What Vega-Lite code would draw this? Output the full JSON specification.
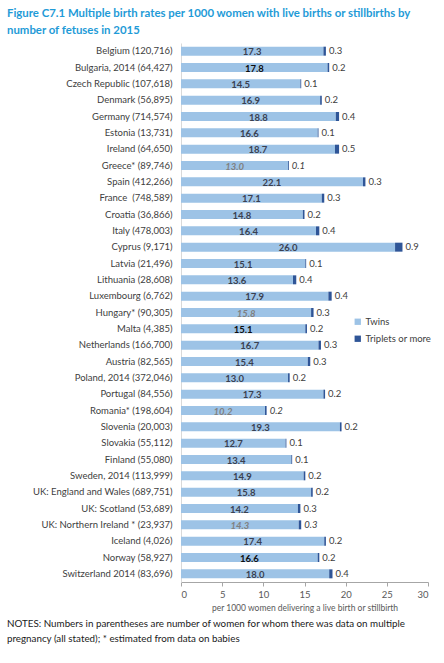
{
  "$schema": "https://vega.github.io/schema/vega-lite/v6.json",
  "background": "white",
  "padding": {"left": 7, "top": 7, "right": 5, "bottom": 5},
  "config": {"view": {"stroke": null}, "font": "Lato"},
  "title": {
    "text": ["Figure C7.1 Multiple birth rates per 1000 women with live births or stillbirths by", "number of fetuses in 2015"],
    "anchor": "start", "frame": "bounds", "font": "Lato", "fontSize": 11.4, "fontWeight": "bold",
    "color": "#1f9bd7", "lineHeight": 17, "offset": 7
  },
  "vconcat": [
    {
      "width": 247,
      "height": 539,
      "title": {
        "text": ["NOTES: Numbers in parentheses are number of women for whom there was data on multiple", "pregnancy (all stated); * estimated from data on babies"],
        "orient": "bottom", "anchor": "start", "frame": "group", "dx": -174, "offset": 7,
        "font": "Lato", "fontSize": 9.8, "fontWeight": "normal", "color": "#1a1a1a", "lineHeight": 15
      },
      "data": {
        "values": [
          {"label": "Belgium (120,716)", "Twins": 17.3, "Triplets or more": 0.3, "est": false},
          {"label": "Bulgaria, 2014 (64,427)", "Twins": 17.8, "Triplets or more": 0.2, "est": false},
          {"label": "Czech Republic (107,618)", "Twins": 14.5, "Triplets or more": 0.1, "est": false},
          {"label": "Denmark (56,895)", "Twins": 16.9, "Triplets or more": 0.2, "est": false},
          {"label": "Germany (714,574)", "Twins": 18.8, "Triplets or more": 0.4, "est": false},
          {"label": "Estonia (13,731)", "Twins": 16.6, "Triplets or more": 0.1, "est": false},
          {"label": "Ireland (64,650)", "Twins": 18.7, "Triplets or more": 0.5, "est": false},
          {"label": "Greece* (89,746)", "Twins": 13.0, "Triplets or more": 0.1, "est": true},
          {"label": "Spain (412,266)", "Twins": 22.1, "Triplets or more": 0.3, "est": false},
          {"label": "France\u00a0 (748,589)", "Twins": 17.1, "Triplets or more": 0.3, "est": false},
          {"label": "Croatia (36,866)", "Twins": 14.8, "Triplets or more": 0.2, "est": false},
          {"label": "Italy (478,003)", "Twins": 16.4, "Triplets or more": 0.4, "est": false},
          {"label": "Cyprus (9,171)", "Twins": 26.0, "Triplets or more": 0.9, "est": false},
          {"label": "Latvia (21,496)", "Twins": 15.1, "Triplets or more": 0.1, "est": false},
          {"label": "Lithuania (28,608)", "Twins": 13.6, "Triplets or more": 0.4, "est": false},
          {"label": "Luxembourg (6,762)", "Twins": 17.9, "Triplets or more": 0.4, "est": false},
          {"label": "Hungary* (90,305)", "Twins": 15.8, "Triplets or more": 0.3, "est": true},
          {"label": "Malta (4,385)", "Twins": 15.1, "Triplets or more": 0.2, "est": false},
          {"label": "Netherlands (166,700)", "Twins": 16.7, "Triplets or more": 0.3, "est": false},
          {"label": "Austria (82,565)", "Twins": 15.4, "Triplets or more": 0.3, "est": false},
          {"label": "Poland, 2014 (372,046)", "Twins": 13.0, "Triplets or more": 0.2, "est": false},
          {"label": "Portugal (84,556)", "Twins": 17.3, "Triplets or more": 0.2, "est": false},
          {"label": "Romania* (198,604)", "Twins": 10.2, "Triplets or more": 0.2, "est": true},
          {"label": "Slovenia (20,003)", "Twins": 19.3, "Triplets or more": 0.2, "est": false},
          {"label": "Slovakia (55,112)", "Twins": 12.7, "Triplets or more": 0.1, "est": false},
          {"label": "Finland (55,080)", "Twins": 13.4, "Triplets or more": 0.1, "est": false},
          {"label": "Sweden, 2014 (113,999)", "Twins": 14.9, "Triplets or more": 0.2, "est": false},
          {"label": "UK: England and Wales (689,751)", "Twins": 15.8, "Triplets or more": 0.2, "est": false},
          {"label": "UK: Scotland (53,689)", "Twins": 14.2, "Triplets or more": 0.3, "est": false},
          {"label": "UK: Northern Ireland * (23,937)", "Twins": 14.3, "Triplets or more": 0.3, "est": true},
          {"label": "Iceland (4,026)", "Twins": 17.4, "Triplets or more": 0.2, "est": false},
          {"label": "Norway (58,927)", "Twins": 16.6, "Triplets or more": 0.2, "est": false},
          {"label": "Switzerland 2014 (83,696)", "Twins": 18.0, "Triplets or more": 0.4, "est": false}
        ]
      },
      "transform": [{"fold": ["Twins", "Triplets or more"], "as": ["type", "value"]}],
      "encoding": {
        "y": {
          "field": "label", "type": "nominal", "sort": null,
          "scale": {"paddingInner": 0.45, "paddingOuter": 0.225},
          "axis": {
            "title": null, "ticks": false, "domainColor": "#d9d9d9", "labelPadding": 9,
            "labelFont": "Lato", "labelFontSize": 9.5, "labelColor": "#404040", "labelLimit": 300,
            "minExtent": 174, "maxExtent": 174
          }
        }
      },
      "layer": [
        {
          "mark": {"type": "bar"},
          "encoding": {
            "x": {
              "field": "value", "type": "quantitative", "stack": "zero",
              "scale": {"domain": [0, 30], "nice": false},
              "axis": {
                "values": [0, 5, 10, 15, 20, 25, 30], "grid": false,
                "domainColor": "#a6a6a6", "tickColor": "#a6a6a6", "tickSize": 4,
                "labelFont": "Lato", "labelFontSize": 9.5, "labelColor": "#595959", "labelPadding": 3,
                "title": "per 1000 women delivering a live birth or stillbirth",
                "titleFont": "Lato", "titleFontSize": 8.5, "titleFontWeight": "normal", "titleColor": "#595959", "titlePadding": 5
              }
            },
            "color": {
              "field": "type", "type": "nominal",
              "scale": {"domain": ["Twins", "Triplets or more"], "range": ["#9dc3e6", "#2f5597"]},
              "legend": {
                "title": null, "orient": "none", "legendX": 172, "legendY": 274, "padding": 0,
                "symbolType": "square", "symbolSize": 40, "symbolStrokeWidth": 0,
                "labelFont": "Lato", "labelFontSize": 9.5, "labelColor": "#404040", "rowPadding": 6, "labelOffset": 3
              }
            },
            "order": {"field": "type", "sort": "descending"}
          }
        },
        {
          "transform": [{"filter": "datum.type == 'Twins' && !datum.est"}],
          "mark": {"type": "text", "font": "Lato", "fontSize": 9.5, "fontWeight": "bold", "baseline": "middle", "dy": 1},
          "encoding": {
            "x": {"field": "value", "type": "quantitative", "stack": "zero", "bandPosition": 0.5},
            "text": {"field": "value", "type": "quantitative", "format": ".1f"},
            "color": {
              "condition": {"test": "indexof(['Bulgaria, 2014 (64,427)', 'Malta (4,385)', 'Norway (58,927)'], datum.label) >= 0", "value": "#0d0d0d"},
              "value": "#3a4050"
            }
          }
        },
        {
          "transform": [{"filter": "datum.type == 'Twins' && datum.est"}],
          "mark": {"type": "text", "font": "Lato", "fontSize": 9.5, "fontWeight": "bold", "fontStyle": "italic", "baseline": "middle", "dy": 1, "color": "#808080"},
          "encoding": {
            "x": {"field": "value", "type": "quantitative", "stack": "zero", "bandPosition": 0.5},
            "text": {"field": "value", "type": "quantitative", "format": ".1f"}
          }
        },
        {
          "transform": [{"filter": "!datum.est || datum.label == 'Hungary* (90,305)'"}],
          "mark": {"type": "text", "font": "Lato", "fontSize": 9.5, "align": "left", "baseline": "middle", "dx": 3, "color": "#404040"},
          "encoding": {
            "x": {"field": "value", "type": "quantitative", "stack": "zero"},
            "detail": {"field": "type"},
            "order": {"field": "type", "sort": "descending"},
            "text": {
              "condition": {"test": "datum.type == 'Triplets or more'", "field": "value", "type": "quantitative", "format": ".1f"},
              "value": ""
            }
          }
        },
        {
          "transform": [{"filter": "datum.est && datum.label != 'Hungary* (90,305)'"}],
          "mark": {"type": "text", "font": "Lato", "fontSize": 9.5, "fontStyle": "italic", "align": "left", "baseline": "middle", "dx": 3, "color": "#404040"},
          "encoding": {
            "x": {"field": "value", "type": "quantitative", "stack": "zero"},
            "detail": {"field": "type"},
            "order": {"field": "type", "sort": "descending"},
            "text": {
              "condition": {"test": "datum.type == 'Triplets or more'", "field": "value", "type": "quantitative", "format": ".1f"},
              "value": ""
            }
          }
        }
      ]
    }
  ]
}
